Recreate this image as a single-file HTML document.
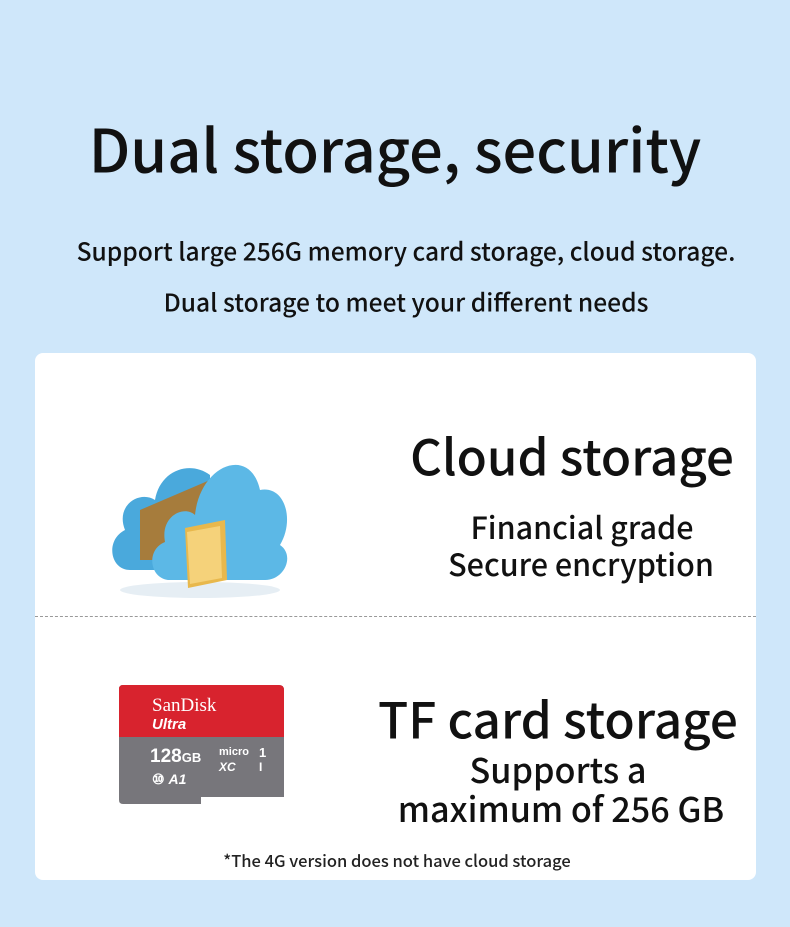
<!DOCTYPE html>
<html><head><style>
body{margin:0;width:790px;height:927px;background:#cfe7fa;font-family:"Noto Sans CJK SC","Liberation Sans",sans-serif;color:#111;position:relative;overflow:hidden}
.t{position:absolute;white-space:nowrap;transform:translate(-50%,-50%);line-height:1;font-weight:500}
.card{position:absolute;left:35px;top:353px;width:721px;height:527px;background:#fff;border-radius:8px}
.dash{position:absolute;left:35px;top:616px;width:721px;border-top:1px dashed #999}
</style></head><body>
<div class="t" style="left:395px;top:148px;font-size:59.5px">Dual storage, security</div>
<div class="t" style="left:406px;top:251px;font-size:24.6px">Support large 256G memory card storage, cloud storage.</div>
<div class="t" style="left:406px;top:302px;font-size:24.6px">Dual storage to meet your different needs</div>
<div class="card"></div>
<div class="dash"></div>
<svg style="position:absolute;left:100px;top:420px" width="200" height="190">
<ellipse cx="100" cy="170" rx="80" ry="8" fill="#e6eef4"/>
<path d="M30 150 C10 150 5 120 25 110 C15 85 40 70 55 80 C60 50 90 40 110 55 L110 150Z" fill="#4aa9dc"/>
<path d="M40 140 L40 90 L110 60 L110 140Z" fill="#a67c3c"/>
<path d="M70 160 C50 160 45 130 65 122 C60 95 85 85 95 95 C100 45 150 25 160 70 C185 65 195 100 180 125 C195 135 185 160 165 160Z" fill="#5cb8e6"/>
<path d="M85 108 L125 100 L127 160 L88 168Z" fill="#e8b84c"/>
<path d="M87 112 L120 106 L122 158 L90 164Z" fill="#f5d27a"/>
</svg>
<svg style="position:absolute;left:119px;top:685px" width="166" height="120">
<path d="M4 0 H160 Q165 0 165 5 V112 H82 V119 H4 Q0 119 0 115 V4 Q0 0 4 0Z" fill="#77767b"/>
<path d="M4 0 H160 Q165 0 165 5 V52 H0 V4 Q0 0 4 0Z" fill="#d8232e"/>
<text x="33" y="26" font-family="Liberation Serif" font-size="19" fill="#fff">SanDisk</text>
<text x="33" y="44" font-family="Liberation Sans" font-style="italic" font-weight="bold" font-size="15" fill="#fff">Ultra</text>
<text x="31" y="77" font-family="Liberation Sans" font-weight="bold" font-size="19" fill="#fff">128<tspan font-size="13">GB</tspan></text>
<text x="100" y="70" font-family="Liberation Sans" font-weight="bold" font-size="11" fill="#fff">micro</text>
<text x="100" y="86" font-family="Liberation Sans" font-style="italic" font-weight="bold" font-size="12" fill="#fff">XC</text>
<text x="140" y="72" font-family="Liberation Sans" font-weight="bold" font-size="13" fill="#fff">1</text>
<text x="140" y="86" font-family="Liberation Sans" font-weight="bold" font-size="12" fill="#fff">I</text>
<text x="33" y="99" font-family="Liberation Sans" font-weight="bold" font-size="14" fill="#fff">⑩ <tspan font-style="italic">A1</tspan></text>
</svg>
<div class="t" style="left:572px;top:455px;font-size:49.3px">Cloud storage</div>
<div class="t" style="left:582px;top:526px;font-size:30.5px">Financial grade</div>
<div class="t" style="left:581px;top:563px;font-size:30.5px">Secure encryption</div>
<div class="t" style="left:558px;top:718px;font-size:49.5px">TF card storage</div>
<div class="t" style="left:558px;top:768px;font-size:34.2px">Supports a</div>
<div class="t" style="left:561px;top:807px;font-size:34.2px">maximum of 256 GB</div>
<div class="t" style="left:397px;top:860px;font-size:16.5px;color:#222">*The 4G version does not have cloud storage</div>
</body></html>
